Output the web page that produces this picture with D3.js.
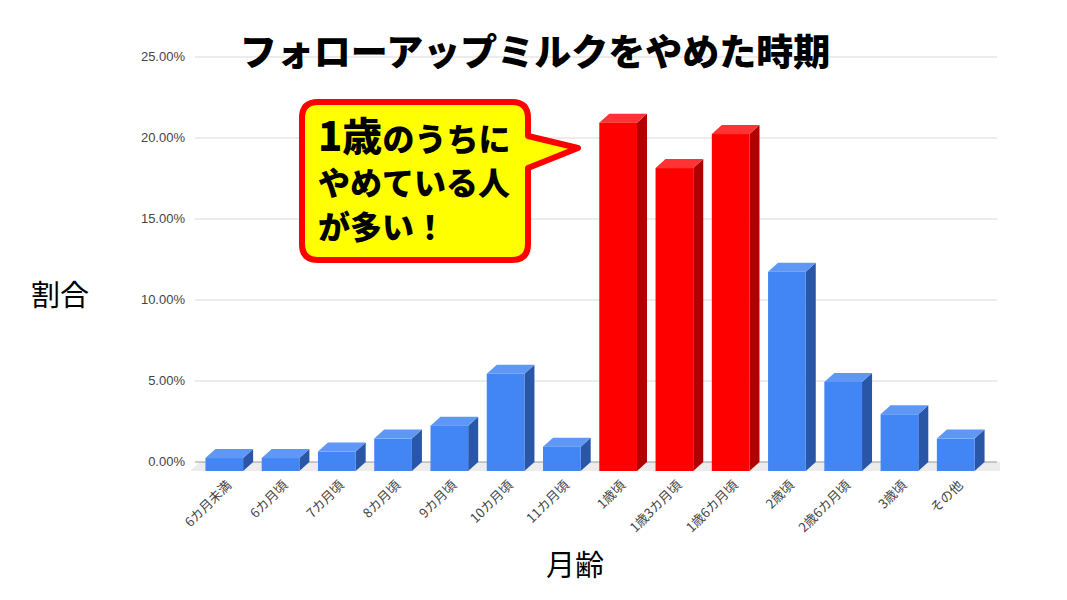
<!DOCTYPE html><html><head><meta charset="utf-8"><script src="https://cdn.jsdelivr.net/npm/d3@7"></script>
<style>body{margin:0;background:#fff}</style></head><body><svg id="c" width="1067" height="600"></svg>
<script>
const categories=["6カ月未満","6カ月頃","7カ月頃","8カ月頃","9カ月頃","10カ月頃","11カ月頃","1歳頃","1歳3カ月頃","1歳6カ月頃","2歳頃","2歳6カ月頃","3歳頃","その他"];
const values=[0.8,0.8,1.2,2.0,2.8,6.0,1.5,21.5,18.7,20.8,12.3,5.5,3.5,2.0];
const highlight=[false,false,false,false,false,false,false,true,true,true,false,false,false,false];
const ticks=[0,5,10,15,20,25];
const svg=d3.select("#c");const F="'Noto Sans CJK JP',sans-serif";
const y=d3.scaleLinear().domain([0,25]).range([462,57]);
const x=d3.scaleBand().domain(categories).range([197,983]).paddingInner(0.33).paddingOuter(0.15);
const dx=10,dy=9,floorY=471;
svg.append("polygon").attr("points",`190,${floorY} 1000,${floorY} 1000,${y(0)} 200,${y(0)}`).attr("fill","#ececec");
ticks.forEach(t=>{svg.append("line").attr("x1",195).attr("x2",997).attr("y1",y(t)).attr("y2",y(t)).attr("stroke",t==0?"#999":"#d9d9d9").attr("stroke-width",1);
svg.append("text").attr("x",185).attr("y",y(t)+4).attr("text-anchor","end").attr("font-family","Arial,'Liberation Sans'").attr("font-size",13).attr("fill","#444").text(t.toFixed(2)+"%");});
const h=v=>y(0)-y(v);
categories.forEach((c,i)=>{const x0=x(c),w=x.bandwidth(),top=floorY-h(values[i]);
const cf=highlight[i]?"#ff0000":"#4285f4",cs=highlight[i]?"#b00000":"#2a56a8",ct=highlight[i]?"#ff3333":"#5f97f5";
const g=svg.append("g");
g.append("polygon").attr("points",`${x0+w},${top} ${x0+w+dx},${top-dy} ${x0+w+dx},${floorY-dy} ${x0+w},${floorY}`).attr("fill",cs);
g.append("polygon").attr("points",`${x0},${top} ${x0+dx},${top-dy} ${x0+w+dx},${top-dy} ${x0+w},${top}`).attr("fill",ct);
g.append("rect").attr("x",x0).attr("y",top).attr("width",w).attr("height",floorY-top).attr("fill",cf);
const lx=x0+w/2+8;
svg.append("text").attr("transform",`translate(${lx},${486}) rotate(-45)`).attr("text-anchor","end").attr("font-family",F).attr("font-size",13).attr("fill","#444").text(c);});
svg.append("text").attr("x",535).attr("y",66).attr("text-anchor","middle").attr("font-family",F).attr("font-weight","900").attr("font-size",37).text("フォローアップミルクをやめた時期");
svg.append("text").attr("x",60).attr("y",306).attr("text-anchor","middle").attr("font-family",F).attr("font-size",29).text("割合");
svg.append("text").attr("x",575).attr("y",576).attr("text-anchor","middle").attr("font-family",F).attr("font-size",29).text("月齢");
svg.append("path").attr("d","M318,102 H512 Q528,102 528,118 V136 L578,148 L528,168 V244 Q528,260 512,260 H318 Q302,260 302,244 V118 Q302,102 318,102 Z").attr("fill","#ffff00").attr("stroke","#ff0000").attr("stroke-width",6).attr("stroke-linejoin","round");
const tl=[[["1歳",40],["のうちに",32]],[["やめている人",32]],[["が多い！",32]]];
tl.forEach((line,i)=>{const t=svg.append("text").attr("x",318).attr("y",151+i*44).attr("font-family",F).attr("font-weight","900").attr("fill","#000");line.forEach(s=>t.append("tspan").attr("font-size",s[1]).text(s[0]));});
</script></body></html>
